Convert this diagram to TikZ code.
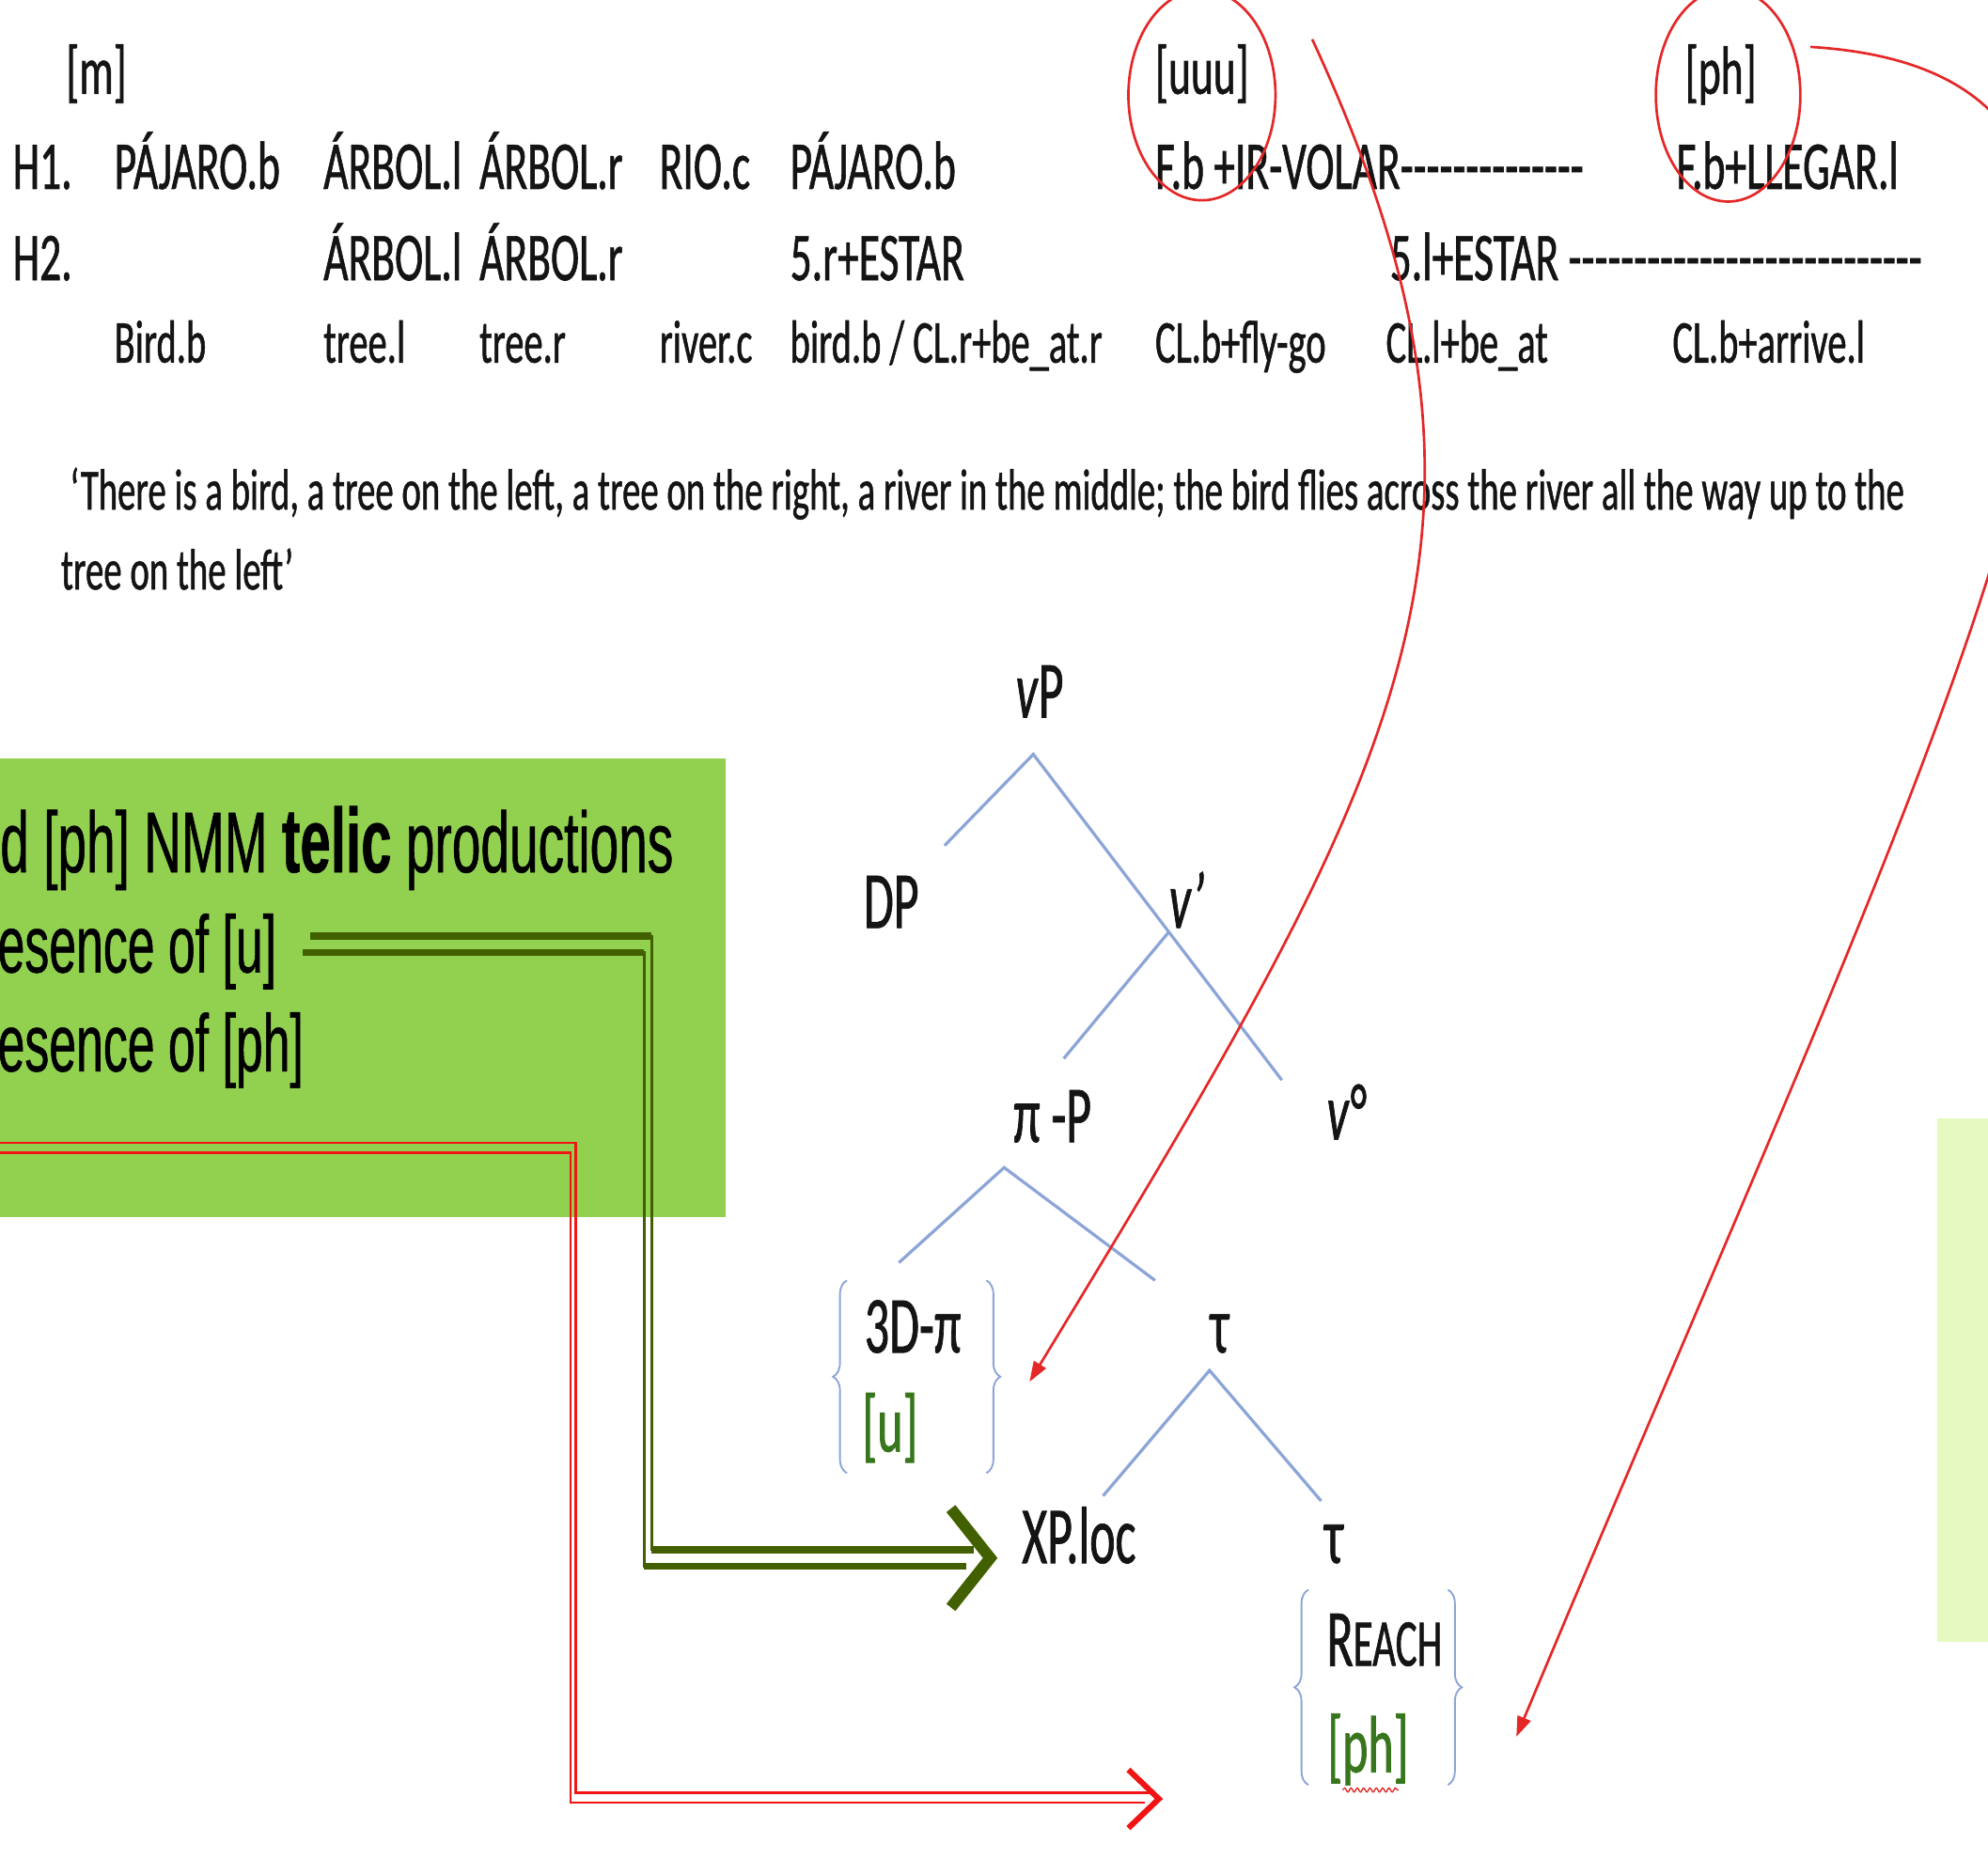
\documentclass[tikz,border=0pt]{standalone}
\usepackage{fontspec}
\setmainfont{Carlito}
\newfontfamily\rowfont[FakeStretch=0.625,FakeBold=0.8,Ligatures=TeXOff]{Carlito}
\newfontfamily\treefont[FakeStretch=0.6,FakeBold=0.8]{Carlito}
\newfontfamily\boxfont[FakeStretch=0.6,FakeBold=0.6]{Liberation Sans}
\usetikzlibrary{arrows.meta,decorations.pathreplacing,decorations.pathmorphing}
\definecolor{ink}{RGB}{20,20,20}
\definecolor{boxgreen}{RGB}{146,208,80}
\definecolor{paleg}{RGB}{229,249,192}
\definecolor{treeblue}{RGB}{140,165,215}
\definecolor{markred}{RGB}{228,40,40}
\definecolor{railgreen}{RGB}{66,96,0}
\definecolor{railred}{RGB}{240,20,20}
\definecolor{featgreen}{RGB}{56,118,29}
\tikzset{
 rowtxt/.style={anchor=base west, inner sep=0pt, text=ink, font=\rowfont\fontsize{54}{60}\selectfont},
 glosstxt/.style={rowtxt, font=\rowfont\fontsize{48}{54}\selectfont},
 transtxt/.style={rowtxt, font=\rowfont\fontsize{46}{52}\selectfont},
 treelab/.style={anchor=base, inner sep=0pt, text=ink, font=\treefont\fontsize{64}{70}\selectfont},
 feat/.style={treelab, text=featgreen},
 boxtxt/.style={anchor=base west, inner sep=0pt, text=black, font=\boxfont\fontsize{64}{70}\selectfont},
 branch/.style={draw=treeblue, line width=2.4pt},
 bracecurl/.style={draw=treeblue, line width=1.4pt, decorate, decoration={brace, amplitude=11pt}},
 redmark/.style={draw=markred, line width=2pt},
 redarrow/.style={redmark, -{Triangle[length=16pt,width=11pt]}},
 grail/.style={draw=railgreen, line width=2pt},
 grailh/.style={draw=railgreen, line width=5.5pt},
 rrail/.style={draw=railred, line width=1.8pt},
}
\begin{document}
\begin{tikzpicture}[x=1pt,y=-1pt]
\useasboundingbox (0,0) rectangle (1568,1466);
\clip (0,0) rectangle (1568,1466);

% boxes
\fill[boxgreen] (-2,598) rectangle (572,960);
\fill[paleg] (1528,882) rectangle (1570,1295);

% header rows
\node[rowtxt] (m) at (52,74) {[m]};
\node[rowtxt] (uuu) at (911,74) {[uuu]};
\node[rowtxt] (ph) at (1329,74) {[ph]};

\node[rowtxt] (h1) at (10,149) {H1.};
\node[rowtxt] (h1a) at (90,149) {PÁJARO.b};
\node[rowtxt] (h1b) at (255,149) {ÁRBOL.l};
\node[rowtxt] (h1c) at (378,149) {ÁRBOL.r};
\node[rowtxt] (h1d) at (520,149) {RIO.c};
\node[rowtxt] (h1e) at (623,149) {PÁJARO.b};
\node[rowtxt] (h1f) at (911,149) {F.b +IR-VOLAR--------------};
\node[rowtxt] (h1g) at (1322,149) {F.b+LLEGAR.l};

\node[rowtxt] (h2) at (10,221) {H2.};
\node[rowtxt] (h2b) at (255,221) {ÁRBOL.l};
\node[rowtxt] (h2c) at (378,221) {ÁRBOL.r};
\node[rowtxt] (h2e) at (623,221) {5.r+ESTAR};
\node[rowtxt] (h2f) at (1096,221) {5.l+ESTAR ---------------------------};

\node[glosstxt] (g1) at (90,286) {Bird.b};
\node[glosstxt] (g2) at (255,286) {tree.l};
\node[glosstxt] (g3) at (378,286) {tree.r};
\node[glosstxt] (g4) at (520,286) {river.c};
\node[glosstxt] (g5) at (623,286) {bird.b / CL.r+be\_at.r};
\node[glosstxt] (g6) at (911,286) {CL.b+fly-go};
\node[glosstxt] (g7) at (1093,286) {CL.l+be\_at};
\node[glosstxt] (g8) at (1319,286) {CL.b+arrive.l};

\node[transtxt] (tr1) at (55,402) {‘There is a bird, a tree on the left, a tree on the right, a river in the middle; the bird flies across the river all the way up to the};
\node[transtxt] (tr2) at (48,465) {tree on the left’};

% green box text
\node[boxtxt, font=\boxfont\fontsize{68}{74}\selectfont] (b1) at (0,688) {d [ph] NMM {\fontsize{72}{74}\selectfont\bfseries telic} productions};
\node[boxtxt] (b2) at (-2,767) {esence of [u]};
\node[boxtxt] (b3) at (-2,845) {esence of [ph]};

% tree labels
\node[treelab] (vP) at (820,566) {\textit{v}P};
\node[treelab] (DP) at (703,732) {DP};
\node[treelab] (vbar) at (936,732) {\textit{v’}};
\node[treelab] (piP) at (830,901) {π -P};
\node[treelab] (v0) at (1062,899) {\textit{v°}};
\node[treelab] (tdpi) at (720,1067) {3D-π};
\node[feat] (u) at (702,1145) {[u]};
\node[treelab] (tauU) at (962,1067) {τ};
\node[treelab] (XP) at (851,1233) {XP.loc};
\node[treelab] (tauL) at (1052,1233) {τ};
\node[treelab] (reach) at (1092,1314) {{\fontsize{64}{70}\selectfont R}{\fontsize{53}{60}\selectfont EACH}};
\node[feat] (phf) at (1079,1398) {[ph]};

% tree branches
\coordinate (vPa) at (815,595);
\coordinate (DPe) at (745,667);
\coordinate (v0e) at (1011,852);
\coordinate (vba) at (922,735);
\coordinate (piPe) at (839,835);
\coordinate (piA) at (792,921);
\coordinate (tdpie) at (709,996);
\coordinate (tauUe) at (911,1010);
\coordinate (tauA) at (954,1081);
\coordinate (XPe) at (870,1180);
\coordinate (tauLe) at (1042,1184);
\draw[branch] (DPe) -- (vPa) -- (v0e);
\draw[branch] (vba) -- (piPe);
\draw[branch] (tdpie) -- (piA) -- (tauUe);
\draw[branch] (XPe) -- (tauA) -- (tauLe);

% braces
\draw[bracecurl] (668,1162) -- (668,1010);
\draw[bracecurl] (778,1010) -- (778,1162);
\draw[bracecurl] (1032,1408) -- (1032,1254);
\draw[bracecurl] (1142,1254) -- (1142,1408);
\draw[markred, line width=1pt, decorate, decoration={snake, amplitude=1.6pt, segment length=5pt}] (1059,1412) -- (1103,1412);

% red ellipses
\draw[redmark] (948,75) ellipse [x radius=58, y radius=83];
\draw[redmark] (1363,75) ellipse [x radius=57, y radius=84];

% red curved arrows
\coordinate (c1s) at (1035,31);
\coordinate (c1e) at (812,1090);
\draw[redarrow] (c1s) .. controls (1215,420) and (1110,600) .. (c1e);
\coordinate (c2s) at (1428,37);
\coordinate (c2e) at (1196,1370);
\draw[redarrow] (c2s) .. controls (1800,60) and (1560,500) .. (c2e);

% green double arrow
\coordinate (gs) at (242,745);
\coordinate (gc1) at (511,745);
\coordinate (gc2) at (511,1229);
\coordinate (ge) at (765,1229);
\coordinate (gt) at (781,1229);
\foreach \dx/\dy in {3/-6.5,-3/6.5}{
  \draw[grail] ([shift={(\dx,\dy)}]gs) -- ([shift={(\dx,\dy)}]gc1) -- ([shift={(\dx,\dy)}]gc2) -- ([shift={(\dx,\dy)}]ge);
  \draw[grailh] ([shift={(\dx,\dy)}]gs) -- ([shift={(\dx,\dy)}]gc1);
  \draw[grailh] ([shift={(\dx,\dy)}]gc2) -- ([shift={(\dx,\dy)}]ge);
}
\draw[railgreen, line width=9pt, line join=miter] ([shift={(-31,-39)}]gt) -- (gt) -- ([shift={(-31,39)}]gt);

% red double arrow
\coordinate (rs) at (-5,905.5);
\coordinate (rc1) at (452,905.5);
\coordinate (rc2) at (452,1418);
\coordinate (re) at (905,1418);
\coordinate (rt) at (914,1419);
\foreach \dx/\dy in {2/-3.8,-2/3.8}{
  \draw[rrail] ([shift={(\dx,\dy)}]rs) -- ([shift={(\dx,\dy)}]rc1) -- ([shift={(\dx,\dy)}]rc2) -- ([shift={(\dx,\dy)}]re);
}
\draw[railred, line width=4.5pt, line join=miter] ([shift={(-24,-23)}]rt) -- (rt) -- ([shift={(-24,23)}]rt);
\end{tikzpicture}
\end{document}
